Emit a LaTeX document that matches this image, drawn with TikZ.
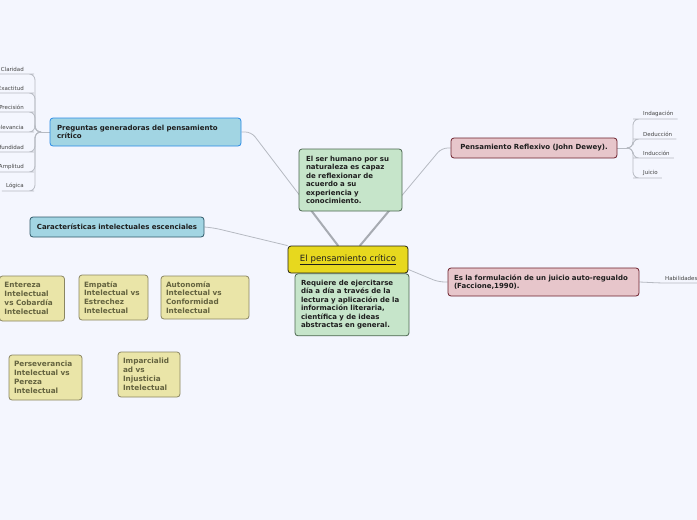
\documentclass[tikz,border=0pt]{standalone}
\usepackage{fontspec}
\setmainfont{DejaVu Sans}
\usetikzlibrary{calc,positioning}
\definecolor{bgpage}{HTML}{F4F6FE}
\definecolor{ink}{HTML}{1E1E1E}
\definecolor{cenf}{HTML}{E7D81E}
\definecolor{cend}{HTML}{262410}
\definecolor{greenf}{HTML}{C6E5CA}
\definecolor{greend}{HTML}{4C6650}
\definecolor{bluef}{HTML}{A2D5E3}
\definecolor{blued}{HTML}{2F5868}
\definecolor{blueb}{HTML}{2A8BE6}
\definecolor{pinkf}{HTML}{E7C6CB}
\definecolor{pinkd}{HTML}{6C1F2C}
\definecolor{yelf}{HTML}{EAE5A8}
\definecolor{yeld}{HTML}{8A8562}
\definecolor{yelt}{HTML}{64633F}
\definecolor{leaft}{HTML}{444444}
\definecolor{lnk}{HTML}{B6BAC2}
\pgfdeclarelayer{back}
\pgfsetlayers{back,main}

\begin{document}
\begin{tikzpicture}[x=1pt,y=-1pt,
  box/.style={draw,rounded corners=3pt,line width=0.8pt,align=left,inner xsep=7pt,inner ysep=3pt,font=\fontsize{7}{8.5}\selectfont\bfseries,text=ink},
  gbox/.style={box,fill=greenf,draw=greend},
  bbox/.style={box,fill=bluef,draw=blued},
  pbox/.style={box,fill=pinkf,draw=pinkd},
  ybox/.style={box,fill=yelf,draw=yeld,text=yelt,inner xsep=5pt,font=\fontsize{7.3}{8.9}\selectfont\bfseries},
  leaf/.style={font=\fontsize{5.5}{6.5}\selectfont,text=leaft,inner xsep=4pt,inner ysep=2pt},
  br/.style={draw=lnk,line width=0.8pt,rounded corners=6pt},
  thk/.style={draw=lnk!92!black,line width=2pt,line cap=round}]
  \useasboundingbox (0,0) rectangle (697,520);
  % centro
  \node[box,fill=cenf,draw=cend,align=center,text width=106,minimum height=27,font=\fontsize{8.6}{10}\selectfont] (cen) at (348,259.5) {\underline{El pensamiento crítico}};
  \node[gbox,inner xsep=6pt,text width=102,minimum height=62,below=0pt of cen,xshift=4] (req) {Requiere de ejercitarse\\día a día a través de la\\lectura y aplicación de la\\información literaria,\\científica y de ideas\\abstractas en general.};
  \node[gbox,text width=89,minimum height=62] (hum) at (350.5,180) {El ser humano por su\\naturaleza es capaz\\de reflexionar de\\acuerdo a su\\experiencia y\\conocimiento.};
  % ramas
  \node[bbox,draw=blueb,text width=177,minimum height=28] (pg) at (145.5,132) {Preguntas generadoras del pensamiento\\crítico};
  \node[bbox,align=center,inner xsep=5pt,text width=164,minimum height=20] (ce) at (117,227) {Características intelectuales escenciales};
  \node[pbox,align=center,inner xsep=5pt,text width=156,minimum height=20] (dw) at (534,148) {Pensamiento Reflexivo (John Dewey).};
  \node[pbox,inner xsep=6pt,text width=179,minimum height=28] (fo) at (543.5,282) {Es la formulación de un juicio auto-regualdo\\(Faccione,1990).};
  % caracteristicas
  \node[ybox,text width=55,minimum height=45] (ent) at (32,298.5) {Entereza\\Intelectual\\vs Cobardía\\Intelectual};
  \node[ybox,text width=59,minimum height=45] (emp) at (113.5,297.5) {Empatía\\Intelectual vs\\Estrechez\\Intelectual};
  \node[ybox,text width=78,minimum height=43] (aut) at (205,297.5) {Autonomía\\Intelectual vs\\Conformidad\\Intelectual};
  \node[ybox,text width=63,minimum height=45] (per) at (45.5,377.5) {Perseverancia\\Intelectual vs\\Pereza\\Intelectual};
  \node[ybox,text width=52,minimum height=45] (imp) at (149,374.5) {Imparcialid\\ad vs\\Injusticia\\Intelectual};
  % hojas
  \coordinate (jl) at (41,132);
  \foreach \t/\yy [count=\i] in {Claridad/74,Exactitud/93,Precisión/112,Relevancia/132,Profundidad/152,Amplitud/172,Lógica/191}
    \node[leaf,anchor=south east] (lq\i) at (28,\yy) {\t};
  \coordinate (jr) at (628,148);
  \foreach \t/\yy [count=\i] in {Indagación/119,Deducción/139,Inducción/158,Juicio/178}
    \node[leaf,anchor=south west] (lr\i) at (639,\yy) {\t};
  \node[leaf,anchor=south west] (hab) at (661,283) {Habilidades};
  \coordinate (pgk) at ($(pg.east)+(10,0)$);
  \coordinate (dwk) at ($(dw.west)+(-9,0)$);
  \coordinate (c1) at ($(cen.north)+(-10,0)$);
  \coordinate (c2) at ($(cen.north)+(12,0)$);
  \begin{pgfonlayer}{back}
    \fill[bgpage] (0,0) rectangle (697,520);
    \draw[br] (pg.east) -- (pgk) -- (c1);
    \draw[thk] (c1) -- ($(c1)!0.33!(pgk)$);
    \draw[br] (dw.west) -- (dwk) -- (c2);
    \draw[thk] (c2) -- ($(c2)!0.38!(dwk)$);
    \draw[br] (ce.east) -- ++(10,1) -- (cen.north west);
    \draw[br] ($(cen.east)+(0,10)$) -- ($(fo.west)+(-9,0)$) -- (fo.west);
    \draw[br] (fo.east) -- (hab.south west) -- (hab.south east);
    \draw[br] (pg.west) -- (jl);
    \foreach \i in {1,...,7}
      \draw[br] (jl) -- ++(-6,0) |- (lq\i.south east) -- (lq\i.south west);
    \draw[br] (dw.east) -- (jr);
    \foreach \i in {1,...,4}
      \draw[br] (jr) -- ++(5,0) |- (lr\i.south west) -- (lr\i.south east);
  \end{pgfonlayer}
\end{tikzpicture}
\end{document}
